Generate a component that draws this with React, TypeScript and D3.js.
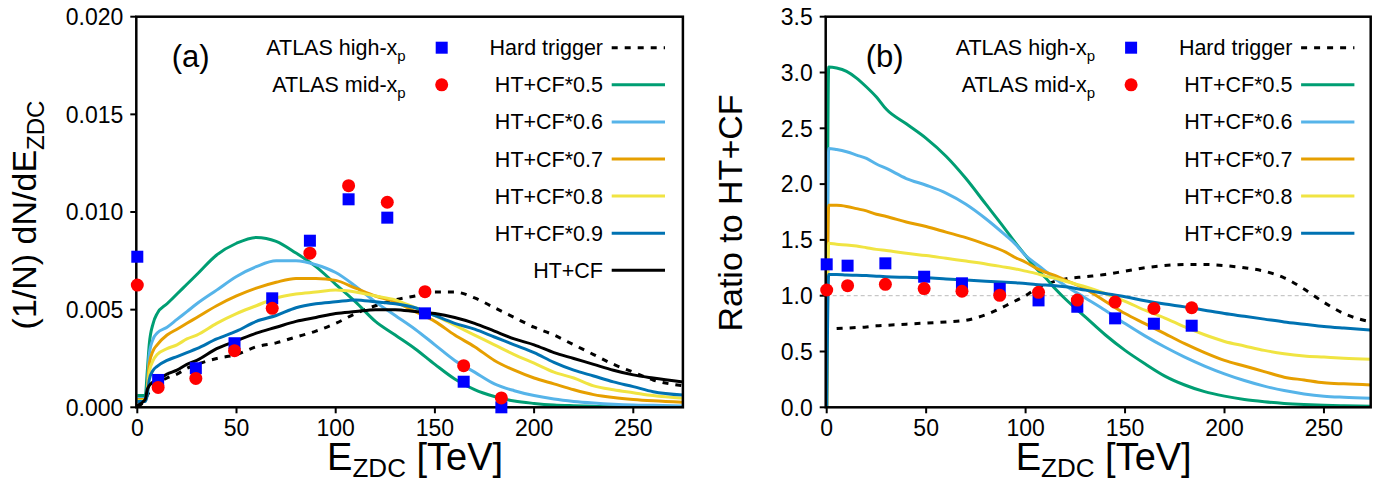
import React from 'react';
import * as d3 from 'd3';

// ---------- data ----------
// Panel (a): 1/N dN/dE_ZDC
const E_A = [0, 4, 5, 6, 8, 10, 15, 20, 25, 30, 40, 50, 60, 70, 80, 90, 100, 110, 120, 130, 140, 150, 160, 170, 180, 190, 200, 210, 220, 230, 240, 250, 260, 275];
const HT_A = [0.00003, 0.0004, 0.0006, 0.0008, 0.0010, 0.0012, 0.0015, 0.0017, 0.0020, 0.0022, 0.0025, 0.0027, 0.0031, 0.0033, 0.0036, 0.0039, 0.0043, 0.0048, 0.0052, 0.0055, 0.0057, 0.0059, 0.0059, 0.0056, 0.0051, 0.0046, 0.0041, 0.0037, 0.0032, 0.0027, 0.0022, 0.0018, 0.0014, 0.0011];
const CF05_A = [0.0006, 0.0006, 0.0018, 0.0032, 0.0043, 0.0048, 0.0053, 0.0058, 0.0063, 0.0068, 0.0078, 0.0084, 0.0087, 0.0085, 0.0079, 0.0072, 0.0063, 0.0054, 0.0044, 0.0037, 0.0030, 0.0022, 0.00145, 0.0009, 0.00055, 0.00032, 0.0002, 0.00012, 0.00008, 0.00005, 0.00003, 0.00002, 0.00001, 0.00001];
const CF06_A = [0.00045, 0.00045, 0.0010, 0.0027, 0.0035, 0.0038, 0.0041, 0.0045, 0.0049, 0.0053, 0.0060, 0.0067, 0.0072, 0.0075, 0.0075, 0.0073, 0.0069, 0.0062, 0.0054, 0.0047, 0.0040, 0.0032, 0.0024, 0.0018, 0.0012, 0.00085, 0.0006, 0.00042, 0.0003, 0.00022, 0.00016, 0.00012, 0.0001, 0.00007];
const CF07_A = [0.0004, 0.0004, 0.0008, 0.0022, 0.0029, 0.0032, 0.0037, 0.0040, 0.0043, 0.0046, 0.0052, 0.0057, 0.0061, 0.0064, 0.0066, 0.0066, 0.0065, 0.0061, 0.0057, 0.0054, 0.0049, 0.0044, 0.0037, 0.0031, 0.0024, 0.0019, 0.0015, 0.0012, 0.0009, 0.00065, 0.0005, 0.0004, 0.00033, 0.00026];
const CF08_A = [0.00034, 0.00034, 0.0007, 0.0018, 0.0024, 0.0027, 0.0030, 0.0032, 0.0035, 0.0037, 0.0043, 0.0048, 0.0052, 0.0056, 0.0058, 0.0059, 0.0060, 0.0059, 0.0057, 0.0055, 0.0051, 0.0047, 0.0042, 0.0037, 0.0032, 0.0027, 0.00226, 0.0018, 0.0015, 0.0011, 0.0009, 0.00075, 0.0006, 0.00046];
const CF09_A = [0.0003, 0.0003, 0.0006, 0.0014, 0.0019, 0.0021, 0.0024, 0.0026, 0.0028, 0.0030, 0.0035, 0.0039, 0.0044, 0.0047, 0.0051, 0.0053, 0.0054, 0.0055, 0.0054, 0.0053, 0.0051, 0.0047, 0.0043, 0.0040, 0.0036, 0.0032, 0.0028, 0.0023, 0.0019, 0.0016, 0.0013, 0.00106, 0.0008, 0.00063];
const HTCF_A = [0.0001, 0.0004, 0.0009, 0.0011, 0.0013, 0.0014, 0.0017, 0.0019, 0.0022, 0.0024, 0.0030, 0.0034, 0.0038, 0.0041, 0.0044, 0.0046, 0.0048, 0.0049, 0.0050, 0.0050, 0.0049, 0.0048, 0.0046, 0.0043, 0.0039, 0.0035, 0.0032, 0.0028, 0.0025, 0.0022, 0.0019, 0.00166, 0.0015, 0.0013];

// Panel (b): ratio to HT+CF
const E_B = [0, 1, 5, 10, 15, 20, 25, 30, 40, 50, 60, 70, 80, 90, 95, 100, 105, 110, 115, 120, 130, 140, 150, 160, 170, 180, 190, 200, 210, 220, 230, 240, 250, 260, 275];
const HT_B = [null, null, 0.705, 0.71, 0.715, 0.72, 0.73, 0.735, 0.745, 0.755, 0.765, 0.78, 0.83, 0.91, 0.955, 1.0, 1.06, 1.10, 1.13, 1.15, 1.17, 1.19, 1.22, 1.25, 1.27, 1.28, 1.28, 1.27, 1.25, 1.22, 1.16, 1.06, 0.94, 0.84, 0.76];
const CF05_B = [0, 3.05, 3.04, 3.01, 2.95, 2.87, 2.78, 2.67, 2.54, 2.41, 2.25, 2.05, 1.82, 1.59, 1.47, 1.36, 1.25, 1.16, 1.06, 0.97, 0.81, 0.65, 0.51, 0.39, 0.28, 0.20, 0.14, 0.10, 0.07, 0.05, 0.035, 0.025, 0.018, 0.014, 0.01];
const CF06_B = [0, 2.32, 2.31, 2.29, 2.26, 2.23, 2.18, 2.14, 2.05, 1.99, 1.92, 1.82, 1.69, 1.54, 1.46, 1.36, 1.29, 1.22, 1.15, 1.09, 0.98, 0.87, 0.75, 0.64, 0.54, 0.45, 0.37, 0.30, 0.24, 0.19, 0.15, 0.12, 0.10, 0.09, 0.08];
const CF07_B = [0, 1.81, 1.81, 1.80, 1.78, 1.76, 1.73, 1.71, 1.66, 1.62, 1.57, 1.52, 1.46, 1.39, 1.34, 1.30, 1.25, 1.21, 1.18, 1.14, 1.06, 0.95, 0.84, 0.75, 0.66, 0.57, 0.49, 0.42, 0.37, 0.32, 0.27, 0.245, 0.22, 0.21, 0.20];
const CF08_B = [0, 1.47, 1.46, 1.455, 1.445, 1.43, 1.415, 1.405, 1.38, 1.36, 1.335, 1.31, 1.285, 1.255, 1.24, 1.22, 1.20, 1.175, 1.155, 1.13, 1.08, 1.02, 0.95, 0.87, 0.80, 0.72, 0.65, 0.59, 0.55, 0.51, 0.48, 0.46, 0.45, 0.44, 0.43];
const CF09_B = [0, 1.19, 1.19, 1.185, 1.183, 1.18, 1.175, 1.17, 1.165, 1.16, 1.15, 1.14, 1.13, 1.12, 1.115, 1.11, 1.10, 1.095, 1.09, 1.08, 1.05, 1.02, 0.99, 0.955, 0.925, 0.90, 0.87, 0.84, 0.815, 0.79, 0.765, 0.745, 0.725, 0.71, 0.69];

// ATLAS points
const E_DATA = [0, 10.5, 29.5, 49, 68, 87, 106.5, 126, 145, 164.5, 183.5];
const HIGH_A = [0.00771, 0.0014, 0.0020, 0.00328, 0.00558, 0.00853, 0.01065, 0.00971, 0.00481, 0.00131, 0.0];
const MID_A = [0.00626, 0.00102, 0.00148, 0.0029, 0.00507, 0.00789, 0.01135, 0.0105, 0.00592, 0.00213, 0.00048];
const HIGH_B = [1.281, 1.269, 1.290, 1.170, 1.111, 1.062, 0.958, 0.901, 0.797, 0.749, 0.731];
const MID_B = [1.051, 1.090, 1.102, 1.064, 1.040, 1.003, 1.030, 0.961, 0.943, 0.886, 0.892];

// ticks and labels
const X_TICKS = [0, 50, 100, 150, 200, 250];
const Y_TICKS_A = [0, 0.005, 0.01, 0.015, 0.02];
const Y_TICKS_B = [0, 0.5, 1, 1.5, 2, 2.5, 3, 3.5];
const SERIES_LABELS = ['Hard trigger', 'HT+CF*0.5', 'HT+CF*0.6', 'HT+CF*0.7', 'HT+CF*0.8', 'HT+CF*0.9', 'HT+CF'];
const DATA_LABELS = ['ATLAS high-x', 'ATLAS mid-x'];

// ---------- styling ----------
const FONT = '"Liberation Sans", Arial, Helvetica, sans-serif';
const SERIES_COLORS = ['#000000', '#009E73', '#56B4E9', '#E69F00', '#F0E442', '#0072B2', '#000000'];
const TOP = 16.7;
const BOTTOM = 407.3;

type Curve = { label: string; color: string; dashed: boolean; values: (number | null)[] };

type PanelProps = {
  id: string;
  x0: number;
  x1: number;
  xMax: number;
  yMax: number;
  yTicks: number[];
  yFmt: (v: number) => string;
  eGrid: number[];
  curves: Curve[];
  high: number[];
  mid: number[];
  tag: string;
  tagX: number;
  yTitle: React.ReactNode;
  yTitleX: number;
  yTitleY: number;
  refLine?: number;
};

function Panel(p: PanelProps) {
  const x = d3.scaleLinear().domain([0, p.xMax]).range([p.x0, p.x1]);
  const y = d3.scaleLinear().domain([0, p.yMax]).range([BOTTOM, TOP]);
  const axisX = p.x0 - 1;
  const line = (vals: (number | null)[]) =>
    d3
      .line<number>()
      .defined((_, i) => vals[i] !== null)
      .x((e) => x(e))
      .y((_, i) => y(vals[i] as number))
      .curve(d3.curveMonotoneX)(p.eGrid) || '';

  const legendTextEnd = p.x0 + 465.7;
  const legendLine0 = p.x0 + 474.4;
  const legendLine1 = p.x0 + 527.7;
  const dataTextEnd = p.x0 + 268.4;
  const dataMarkerX = p.x0 + 304.4;
  const rowY = (i: number) => 47.7 + 37.1 * i;
  const cx = (p.x0 + p.x1) / 2 + 5;

  return (
    <g>
      <defs>
        <clipPath id={`clip-${p.id}`}>
          <rect x={axisX} y={TOP} width={p.x1 - axisX} height={BOTTOM - TOP} />
        </clipPath>
      </defs>
      <g clipPath={`url(#clip-${p.id})`}>
        {p.refLine !== undefined && (
          <line x1={axisX} x2={p.x1} y1={y(p.refLine)} y2={y(p.refLine)} stroke="#bbbbbb" strokeWidth={1} strokeDasharray="4,3" />
        )}
        {p.curves.map((c, i) => (
          <path
            key={i}
            d={line(c.values)}
            fill="none"
            stroke={c.color}
            strokeWidth={3}
            strokeDasharray={c.dashed ? '6,7' : undefined}
          />
        ))}
      </g>
      {/* frame */}
      <rect x={axisX} y={TOP} width={p.x1 - axisX} height={BOTTOM - TOP} fill="none" stroke="#000" strokeWidth={2.5} />
      {/* x ticks */}
      {X_TICKS.map((t) => (
        <g key={`xt${t}`}>
          <line x1={x(t)} x2={x(t)} y1={BOTTOM} y2={BOTTOM + 6} stroke="#000" strokeWidth={2} />
          <text x={x(t)} y={436} textAnchor="middle" fontSize={23} fontFamily={FONT} fill="#000">
            {t}
          </text>
        </g>
      ))}
      {/* y ticks */}
      {p.yTicks.map((t) => (
        <g key={`yt${t}`}>
          <line x1={axisX - 6} x2={axisX} y1={y(t)} y2={y(t)} stroke="#000" strokeWidth={2} />
          <text x={axisX - 13} y={y(t)} dy="0.36em" textAnchor="end" fontSize={23} fontFamily={FONT} fill="#000">
            {p.yFmt(t)}
          </text>
        </g>
      ))}
      {/* axis titles */}
      <text x={cx} y={470} textAnchor="middle" fontSize={38} fontFamily={FONT} fill="#000">
        E
        <tspan fontSize={26} dy={7}>
          ZDC
        </tspan>
        <tspan dy={-7}> [TeV]</tspan>
      </text>
      <text
        transform={`translate(${p.yTitleX},${p.yTitleY}) rotate(-90)`}
        textAnchor="middle"
        fontSize={34}
        fontFamily={FONT}
        fill="#000"
      >
        {p.yTitle}
      </text>
      {/* panel tag */}
      <text x={p.tagX} y={67} fontSize={31} fontFamily={FONT} fill="#000">
        {p.tag}
      </text>
      {/* data markers */}
      {E_DATA.map((e, i) => (
        <rect key={`h${i}`} x={x(e) - 6} y={y(p.high[i]) - 6} width={12} height={12} fill="#0000FF" />
      ))}
      {E_DATA.map((e, i) => (
        <circle key={`m${i}`} cx={x(e)} cy={y(p.mid[i])} r={6.5} fill="#FF0000" />
      ))}
      {/* data legend */}
      {DATA_LABELS.map((lab, i) => (
        <text key={`dl${i}`} x={dataTextEnd} y={rowY(i) + 7.5} textAnchor="end" fontSize={21.5} fontFamily={FONT} fill="#000">
          {lab}
          <tspan fontSize={15} dy={6}>
            p
          </tspan>
        </text>
      ))}
      <rect x={dataMarkerX - 6} y={rowY(0) - 6} width={12} height={12} fill="#0000FF" />
      <circle cx={dataMarkerX} cy={rowY(1)} r={6.5} fill="#FF0000" />
      {/* series legend */}
      {p.curves.map((c, i) => (
        <g key={`sl${i}`}>
          <text x={legendTextEnd} y={rowY(i) + 7.5} textAnchor="end" fontSize={21.5} fontFamily={FONT} fill="#000">
            {c.label}
          </text>
          <line
            x1={legendLine0}
            x2={legendLine1}
            y1={rowY(i)}
            y2={rowY(i)}
            stroke={c.color}
            strokeWidth={3}
            strokeDasharray={c.dashed ? '6,7' : undefined}
          />
        </g>
      ))}
    </g>
  );
}

export default function App() {
  const valsA = [HT_A, CF05_A, CF06_A, CF07_A, CF08_A, CF09_A, HTCF_A];
  const valsB = [HT_B, CF05_B, CF06_B, CF07_B, CF08_B, CF09_B];
  const curvesA: Curve[] = valsA.map((v, i) => ({
    label: SERIES_LABELS[i],
    color: SERIES_COLORS[i],
    dashed: i === 0,
    values: v,
  }));
  const curvesB: Curve[] = valsB.map((v, i) => ({
    label: SERIES_LABELS[i],
    color: SERIES_COLORS[i],
    dashed: i === 0,
    values: v,
  }));
  const fmtA = d3.format('.3f');
  const fmtB = d3.format('.1f');
  return (
    <svg
      width={1380}
      height={479}
      style={{ position: 'absolute', left: 0, top: 0, display: 'block', background: '#fff' }}
    >
      <rect x={0} y={0} width={1380} height={479} fill="#fff" />
      <Panel
        id="a"
        x0={137.3}
        x1={682.9}
        xMax={275}
        yMax={0.02}
        yTicks={Y_TICKS_A}
        yFmt={(v) => fmtA(v)}
        eGrid={E_A}
        curves={curvesA}
        high={HIGH_A}
        mid={MID_A}
        tag="(a)"
        tagX={171.7}
        yTitleX={36}
        yTitleY={215}
        yTitle={
          <>
            (1/N) dN/dE
            <tspan fontSize={24} dy={8}>
              ZDC
            </tspan>
          </>
        }
      />
      <Panel
        id="b"
        x0={826.7}
        x1={1370.7}
        xMax={273.5}
        yMax={3.5}
        yTicks={Y_TICKS_B}
        yFmt={(v) => fmtB(v)}
        eGrid={E_B}
        curves={curvesB}
        high={HIGH_B}
        mid={MID_B}
        tag="(b)"
        tagX={865.7}
        yTitleX={742}
        yTitleY={213}
        yTitle={<>Ratio to HT+CF</>}
        refLine={1}
      />
    </svg>
  );
}
